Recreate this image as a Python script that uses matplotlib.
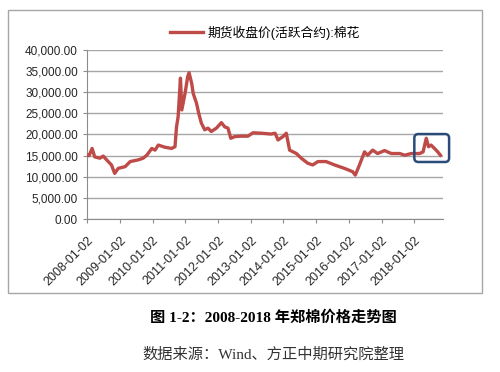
import matplotlib
matplotlib.use('Agg')
import matplotlib.pyplot as plt
import matplotlib.dates as mdates
from matplotlib.patches import Rectangle, FancyBboxPatch
from matplotlib.ticker import FuncFormatter
import numpy as np

# 郑棉期货收盘价（活跃合约），从原图读出的近似值
dates = ['2008-01-02', '2008-01-25', '2008-02-28', '2008-03-28', '2008-05-25', '2008-07-01',
         '2008-08-08', '2008-10-01', '2008-11-06', '2008-12-16', '2009-03-03', '2009-04-28',
         '2009-07-27', '2009-09-20', '2009-10-30', '2009-12-25', '2010-01-30', '2010-03-08',
         '2010-05-18', '2010-08-03', '2010-09-10', '2010-09-27', '2010-10-15', '2010-11-10',
         '2010-11-25', '2010-12-31', '2011-01-30', '2011-02-14', '2011-03-15', '2011-04-01',
         '2011-05-08', '2011-06-02', '2011-07-01', '2011-08-08', '2011-09-13', '2011-10-20',
         '2011-12-16', '2012-02-10', '2012-03-18', '2012-04-23', '2012-05-25', '2012-07-08',
         '2012-09-20', '2012-12-02', '2013-01-27', '2013-05-01', '2013-08-18', '2013-10-01',
         '2013-11-03', '2013-12-28', '2014-02-03', '2014-03-12', '2014-05-27', '2014-07-20',
         '2014-10-01', '2014-11-25', '2015-01-22', '2015-04-23', '2015-07-27', '2015-11-13',
         '2016-02-14', '2016-03-14', '2016-04-30', '2016-06-25', '2016-07-30', '2016-09-24',
         '2016-11-18', '2017-02-03', '2017-04-20', '2017-07-24', '2017-09-16', '2017-11-28',
         '2018-03-03', '2018-04-10', '2018-05-15', '2018-06-10', '2018-07-08', '2018-08-15',
         '2018-09-20', '2018-10-20']
prices = [15100, 15000, 16700, 14700, 14400, 14900,
          14000, 12800, 10800, 12000, 12400, 13600,
          14000, 14400, 15100, 16700, 16300, 17500,
          17000, 16700, 17100, 21800, 24200, 33300,
          25800, 29700, 33700, 34600, 32100, 29700,
          27400, 25000, 22700, 21100, 21500, 20700,
          21500, 22800, 21800, 21500, 19100, 19500,
          19600, 19600, 20400, 20300, 20100, 20300,
          18700, 19500, 20300, 16300, 15500, 14400,
          13200, 12800, 13600, 13600, 12800, 12000,
          11200, 10400, 12800, 15900, 15100, 16300,
          15500, 16200, 15500, 15500, 15100, 15500,
          15500, 15900, 19100, 17100, 17500, 16700,
          15900, 15100]
tick_years = list(range(2008, 2019))
legend_label = '期货收盘价(活跃合约):棉花'

x = np.array(dates, dtype='datetime64[D]')
y = np.array(prices)

plt.rcParams['font.family'] = ['Liberation Sans', 'Noto Sans CJK SC']

fig = plt.figure(figsize=(5, 3.72), dpi=100)
ax = fig.add_axes([0.174, 0.411, 0.712, 0.455])

ax.plot(x, y, color='#BE4B48', lw=2.4, label=legend_label, zorder=3)

ax.set_ylim(0, 40000)
ax.set_yticks(np.arange(0, 40001, 5000))
ax.yaxis.set_major_formatter(FuncFormatter(lambda v, p: f'{v:,.2f}'))
ax.set_xlim(np.datetime64('2008-01-02'), np.datetime64('2018-11-18'))
ticks = [np.datetime64(f'{yr}-01-02') for yr in tick_years]
ax.set_xticks(ticks)
ax.set_xticklabels([f'{yr}-01-02' for yr in tick_years], rotation=45, ha='right',
                   rotation_mode='anchor')

ax.grid(axis='y', color='#a6a6a6', lw=1, zorder=0)
for s in ['top', 'right']:
    ax.spines[s].set_visible(False)
for s in ['left', 'bottom']:
    ax.spines[s].set_color('#8c8c8c')
ax.tick_params(axis='both', labelsize=8.5, colors='#8c8c8c', labelcolor='#262626', length=3)
ax.tick_params(axis='x', pad=8, labelsize=9)

ax.legend(loc='lower center', bbox_to_anchor=(0.5, 1.03), frameon=False, fontsize=9.2,
          handlelength=2.6, handletextpad=0.35, borderaxespad=0)

# 标注框
box = FancyBboxPatch((mdates.date2num(np.datetime64('2018-01-02')), 13500),
                     mdates.date2num(np.datetime64('2019-01-25')) - mdates.date2num(np.datetime64('2018-01-02')),
                     6600, boxstyle='round,pad=0,rounding_size=45', mutation_aspect=21,
                     fc='none', ec='#2a4a7a', lw=1.8, clip_on=False, zorder=4)
ax.add_patch(box)

# 外框
fig.patches.append(Rectangle((8 / 500, 1 - 293 / 372), 474 / 500, 283 / 372,
                             transform=fig.transFigure, fill=False, ec='#a6a6a6', lw=1))

fig.text(0.547, 1 - 318 / 372, '图 1-2：2008-2018 年郑棉价格走势图', ha='center', va='center',
         fontsize=11, fontweight='bold', family=['Liberation Serif', 'Noto Sans CJK SC'])
fig.text(0.547, 1 - 355 / 372, '数据来源：Wind、方正中期研究院整理', ha='center', va='center',
         fontsize=11, color='#333333', family=['Liberation Serif', 'Noto Sans CJK SC'])

plt.savefig('out.png', dpi=100)
